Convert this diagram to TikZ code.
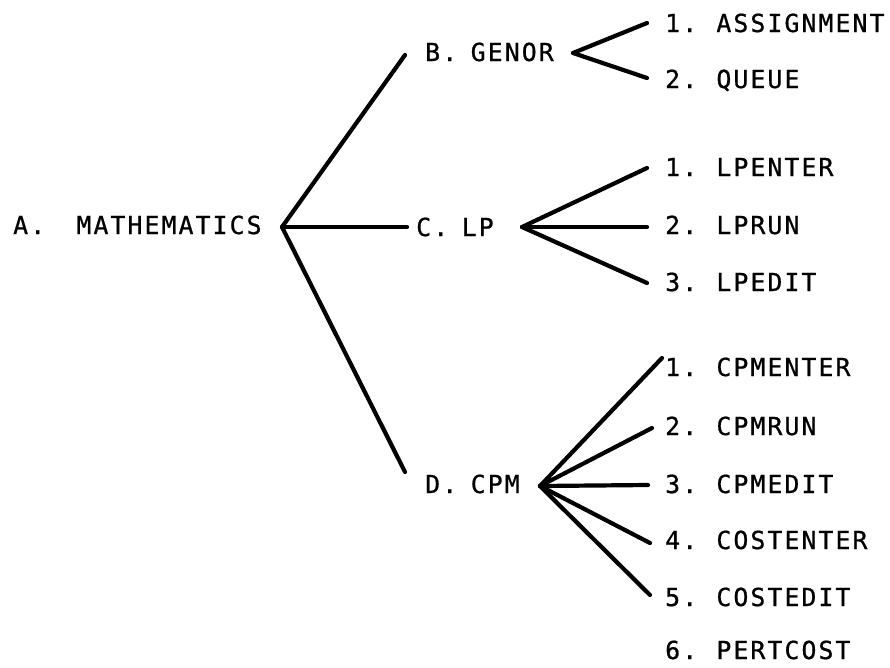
\documentclass[tikz,border=0pt]{standalone}
\usepackage{fontspec}
\setmainfont{DejaVu Sans Mono}[LetterSpace=8.4,FakeBold=0.8,WordSpace=0.8]
\begin{document}
\begin{tikzpicture}[x=1pt,y=-1pt,
  lbl/.style={anchor=west, inner sep=0pt, text height=18pt, text depth=0pt,
              font=\fontsize{24.8}{29}\selectfont},
  br/.style={line width=4.2pt, line cap=round, line join=round}]
\useasboundingbox (0,0) rectangle (890,667);
% texts
\node[lbl] (a) at (13,225) {A.\ \ \,MATHEMATICS};
\node[lbl] (b) at (425,52) {B. GENOR};
\node[lbl] (c) at (416,227) {C. LP};
\node[lbl] (d) at (425,484) {D. CPM};
\node[lbl] (b1) at (665,23) {1. ASSIGNMENT};
\node[lbl] (b2) at (665,79) {2. QUEUE};
\node[lbl] (c1) at (665,167) {1. LPENTER};
\node[lbl] (c2) at (665,225) {2. LPRUN};
\node[lbl] (c3) at (665,282) {3. LPEDIT};
\node[lbl] (d1) at (665,367) {1. CPMENTER};
\node[lbl] (d2) at (665,426) {2. CPMRUN};
\node[lbl] (d3) at (665,484) {3. CPMEDIT};
\node[lbl] (d4) at (665,540) {4. COSTENTER};
\node[lbl] (d5) at (665,597) {5. COSTEDIT};
\node[lbl] (d6) at (665,650) {6. PERTCOST};
% branch points
\coordinate (av) at (282,227);
\coordinate (bv) at (573,53);
\coordinate (cv) at (522,227);
\coordinate (dv) at (540,486);
% connectors
\draw[br] (av) -- ([shift={(-20pt,-3pt)}]b.west);
\draw[br] (av) -- ([shift={(-9pt,0pt)}]c.west);
\draw[br] (av) -- ([shift={(-20pt,12pt)}]d.west);
\draw[br] (bv) -- ([shift={(-18pt,0pt)}]b1.west);
\draw[br] (bv) -- ([shift={(-18pt,1pt)}]b2.west);
\draw[br] (cv) -- ([shift={(-18pt,-1pt)}]c1.west);
\draw[br] (cv) -- ([shift={(-18pt,-2pt)}]c2.west);
\draw[br] (cv) -- ([shift={(-18pt,-1pt)}]c3.west);
\draw[br] (dv) -- ([shift={(-3pt,9pt)}]d1.west);
\draw[br] (dv) -- ([shift={(-13pt,-2pt)}]d2.west);
\draw[br] (dv) -- ([shift={(-17pt,-1pt)}]d3.west);
\draw[br] (dv) -- ([shift={(-15pt,-3pt)}]d4.west);
\draw[br] (dv) -- ([shift={(-15pt,2pt)}]d5.west);
\end{tikzpicture}
\end{document}
